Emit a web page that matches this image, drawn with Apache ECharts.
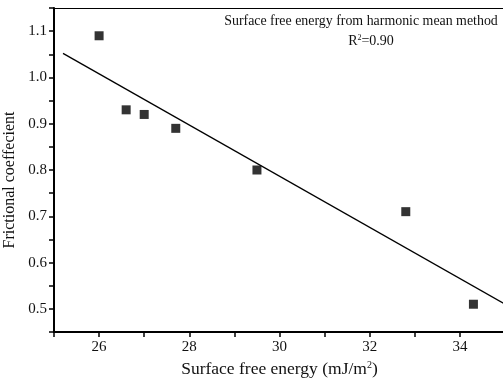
<!DOCTYPE html>
<html><head><meta charset="utf-8">
<script src="https://cdn.jsdelivr.net/npm/echarts@6/dist/echarts.min.js"></script>
<style>html,body{margin:0;padding:0;background:#fff}#c{width:503px;height:383px}</style>
</head><body><div id="c"></div>
<script>
const energy = [26.0, 26.6, 27.0, 27.7, 29.5, 32.8, 34.3];
const friction = [1.09, 0.93, 0.92, 0.89, 0.80, 0.71, 0.51];
const fitX = [25.2, 35.0];
const fitY = [1.052, 0.51];
const xTicks = [26, 28, 30, 32, 34];
const yTicks = [0.5, 0.6, 0.7, 0.8, 0.9, 1.0, 1.1];

const font = '"Liberation Serif", "DejaVu Serif", serif';
const chart = echarts.init(document.getElementById('c'));
chart.setOption({
  animation: false,
  backgroundColor: '#fff',
  grid: {left: 54, top: 8, right: -2, bottom: 51, show: false, outerBoundsMode: 'none', containLabel: false},
  graphic: [{
    type: 'text', x: 361, y: 21,
    style: {text: 'Surface free energy from harmonic mean method', align: 'center', verticalAlign: 'middle',
      font: '13.9px "Liberation Serif", serif', fill: '#111'}
  }, {
    type: 'text', x: 371, y: 41,
    style: {text: '{t|R}{s|2}{t|=0.90}', align: 'center', verticalAlign: 'middle',
      rich: {
        t: {fontFamily: font, fontSize: 14, fill: '#111'},
        s: {fontFamily: font, fontSize: 8, fill: '#111', verticalAlign: 'top', padding: [0,0,6,0]}}}
  }],
  xAxis: [{
    type: 'value', min: 25, max: 35, interval: 1,
    axisLine: {lineStyle: {color: '#000', width: 2}},
    axisTick: {show: true, length: 5, lineStyle: {color: '#000', width: 1.5}},
    minorTick: {show: false},
    splitLine: {show: false},
    axisLabel: {fontFamily: font, fontSize: 15, color: '#111', margin: 8, showMinLabel: true, showMaxLabel: true,
      formatter: v => xTicks.includes(v) ? String(v) : ''},
    name: '{t|Surface free energy (mJ/m}{s|2}{t|)}',
    nameLocation: 'middle', nameGap: 28,
    nameTextStyle: {rich: {t: {fontFamily: font, fontSize: 17.5, color: '#111'}, s: {fontFamily: font, fontSize: 10, color: '#111', verticalAlign: 'top', padding: [0,0,9,0]}}}
  }, {
    type: 'value', min: 25, max: 35, position: 'top',
    axisLine: {show: true, lineStyle: {color: '#000', width: 1}},
    axisTick: {show: false}, axisLabel: {show: false}, splitLine: {show: false}
  }],
  yAxis: {
    type: 'value', min: 0.45, max: 1.15, interval: 0.05,
    axisLine: {show: true, lineStyle: {color: '#000', width: 2}},
    axisTick: {show: true, length: 5, lineStyle: {color: '#000', width: 1.5}},
    splitLine: {show: false},
    axisLabel: {fontFamily: font, fontSize: 15, color: '#111', margin: 7,
      formatter: v => { const r = Math.round(v*100)/100; return yTicks.some(t => Math.abs(t-r) < 1e-6) ? r.toFixed(1) : ''; }},
    name: 'Frictional coeffecient', nameLocation: 'middle', nameGap: 31,
    nameTextStyle: {fontFamily: font, fontSize: 16, color: '#111', padding: [0, 20, 0, 0]}
  },
  series: [{
    type: 'scatter', symbol: 'rect', symbolSize: 9,
    itemStyle: {color: '#000'},
    data: energy.map((x, i) => [x, friction[i]])
  }, {
    type: 'line', symbol: 'none', lineStyle: {color: '#000', width: 1.3},
    data: fitX.map((x, i) => [x, fitY[i]])
  }]
});
</script></body></html>
